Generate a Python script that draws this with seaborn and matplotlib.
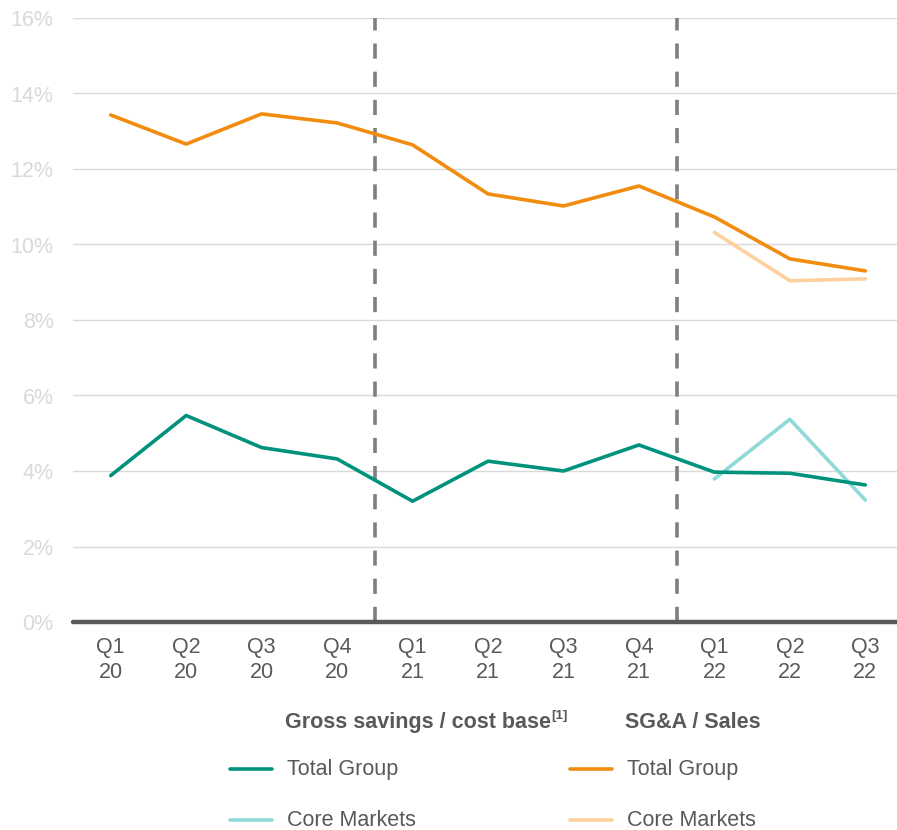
import matplotlib
matplotlib.use("Agg")
import matplotlib.pyplot as plt
from matplotlib.lines import Line2D
import seaborn as sns
import pandas as pd
import numpy as np

quarters = ["Q1\n20", "Q2\n20", "Q3\n20", "Q4\n20", "Q1\n21", "Q2\n21",
            "Q3\n21", "Q4\n21", "Q1\n22", "Q2\n22", "Q3\n22"]
savings_total = [3.88, 5.47, 4.62, 4.32, 3.20, 4.26, 4.00, 4.69, 3.97, 3.94, 3.63]
sga_total = [13.43, 12.66, 13.46, 13.22, 12.64, 11.34, 11.02, 11.55, 10.73, 9.62, 9.30]
core_quarters = ["Q1\n22", "Q2\n22", "Q3\n22"]
savings_core = [3.79, 5.37, 3.23]
sga_core = [10.32, 9.04, 9.09]
yticks = [0, 2, 4, 6, 8, 10, 12, 14, 16]
dividers = [3.5, 7.5]

C_TEAL = "#00927c"
C_TEAL_L = "#8fdad7"
C_ORANGE = "#f28c0f"
C_ORANGE_L = "#fdd19e"
C_TEXT = "#595959"
C_GRID = "#d9d9d9"
FS = 15.5

sns.set_theme(style="white")
plt.rcParams['font.family'] = ['Liberation Sans', 'DejaVu Sans']

pos = {q: i for i, q in enumerate(quarters)}
frames = []
for name, qs, vals in [("sav_total", quarters, savings_total),
                       ("sga_total", quarters, sga_total),
                       ("sav_core", core_quarters, savings_core),
                       ("sga_core", core_quarters, sga_core)]:
    frames.append(pd.DataFrame({"series": name, "x": [pos[q] for q in qs], "y": vals}))
df = pd.concat(frames, ignore_index=True)

fig = plt.figure(figsize=(8.97, 8.30), dpi=100)
ax = fig.add_axes([73 / 897, 1 - 622 / 830, 1 - 73 / 897, (622 - 18) / 830])

ax.set_ylim(0, 16)
ax.set_xlim(-0.5, 10.42)
for y in yticks[1:]:
    ax.axhline(y, color=C_GRID, lw=1.0, zorder=0)

for d in dividers:
    ax.axvline(d, color="#7f7f7f", lw=2.6, ls=(0, (4.2, 3.6)), zorder=1)

palette = {"sav_total": C_TEAL, "sga_total": C_ORANGE,
           "sav_core": C_TEAL_L, "sga_core": C_ORANGE_L}
sns.lineplot(data=df, x="x", y="y", hue="series", palette=palette,
             hue_order=["sga_core", "sav_core", "sga_total", "sav_total"],
             lw=2.6, legend=False, ax=ax, zorder=3)

ax.axhline(0, color=C_TEXT, lw=3.2, zorder=4, clip_on=False)

ax.set_xticks(range(len(quarters)))
ax.set_xticklabels(quarters, color=C_TEXT, fontsize=FS, linespacing=1.25)
ax.set_yticks(yticks)
ax.set_yticklabels([f"{v}%" for v in yticks], color=C_GRID, fontsize=FS)
ax.tick_params(axis="x", length=0, pad=11)
ax.tick_params(axis="y", length=0, pad=14)
ax.set_xlabel("")
ax.set_ylabel("")
for s in ax.spines.values():
    s.set_visible(False)

def fx(px):
    return px / 897

def fy(py):
    return 1 - py / 830

fig.text(fx(285), fy(722), "Gross savings / cost base", fontsize=FS, fontweight="bold",
         color=C_TEXT, va="center", ha="left")
fig.text(fx(551), fy(716), "[1]", fontsize=9.5, fontweight="bold",
         color=C_TEXT, va="center", ha="left")
fig.text(fx(625), fy(722), "SG&A / Sales", fontsize=FS, fontweight="bold",
         color=C_TEXT, va="center", ha="left")

entries = [(230, 769, C_TEAL, "Total Group"), (230, 820, C_TEAL_L, "Core Markets"),
           (570, 769, C_ORANGE, "Total Group"), (570, 820, C_ORANGE_L, "Core Markets")]
for x0, y0, col, lab in entries:
    fig.add_artist(Line2D([fx(x0), fx(x0 + 42)], [fy(y0), fy(y0)], color=col, lw=2.6,
                          solid_capstyle="round", transform=fig.transFigure))
    fig.text(fx(x0 + 57), fy(y0), lab, fontsize=FS, color=C_TEXT, va="center", ha="left")

fig.savefig("out.png", dpi=100)
